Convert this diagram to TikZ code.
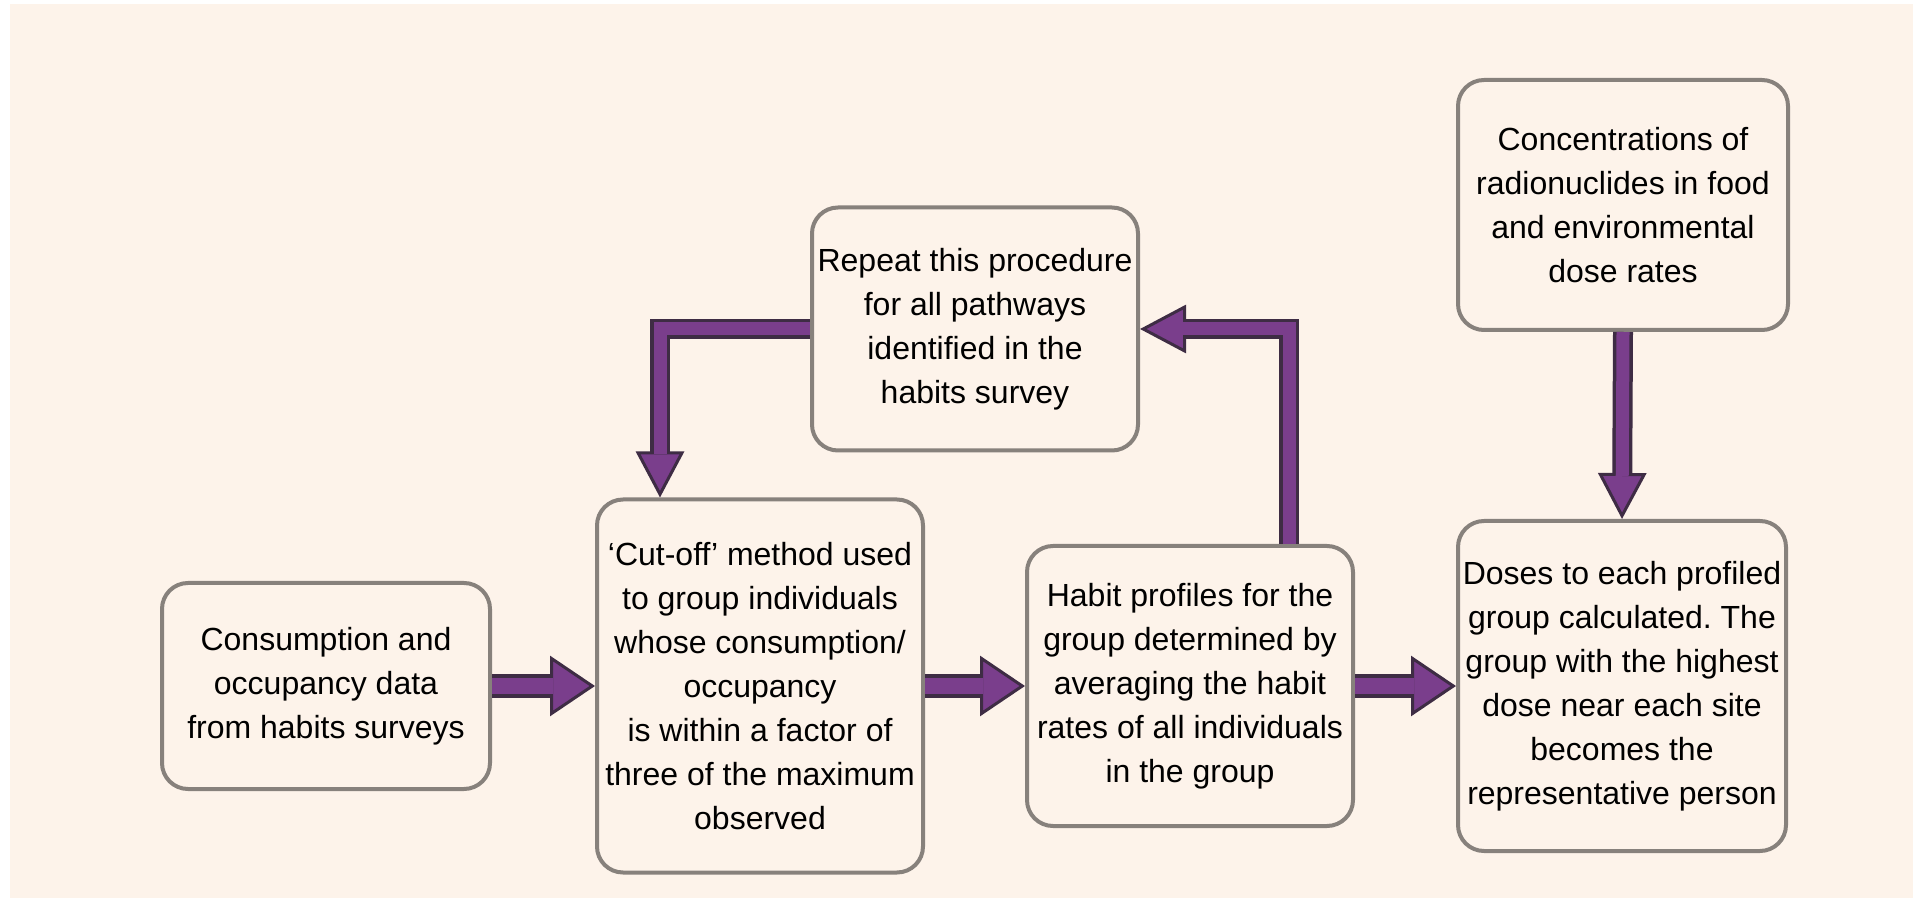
\documentclass[tikz,border=0pt]{standalone}
\usepackage{fontspec}
\setmainfont{Liberation Sans}
\usetikzlibrary{arrows.meta,calc}
\definecolor{bgcream}{RGB}{253,243,234}
\definecolor{boxline}{RGB}{135,129,124}
\definecolor{arrpurple}{RGB}{122,62,140}
\definecolor{arrdark}{RGB}{62,44,68}
\tikzset{
  flowbox/.style={draw=boxline, line width=2pt, rounded corners=13pt, fill=bgcream,
    align=center, inner sep=1pt, text=black,
    font=\fontsize{16pt}{22pt}\selectfont\frenchspacing},
  bigout/.style={draw=arrdark, line width=12pt, line join=miter,
    -{Triangle[width=30pt,length=22.5pt,fill=arrpurple,line width=1.5pt]}},
  bigin/.style={draw=arrpurple, line width=8pt, line join=miter, shorten >=21pt},
  smallout/.style={draw=arrdark, line width=10pt, line join=miter,
    -{Triangle[width=24pt,length=23pt,fill=arrpurple,line width=1.5pt]}},
  smallin/.style={draw=arrpurple, line width=6.5pt, line join=miter, shorten >=21.5pt},
}
\begin{document}
\begin{tikzpicture}[x=0.5pt,y=-0.5pt]
\useasboundingbox (0,0) rectangle (1913,898);
\fill[white] (0,0) rectangle (1913,898);
\fill[bgcream] (10,4) rectangle (1913,898);

\node[flowbox, minimum width=164pt, minimum height=103pt] (A) at (326,686)
  {Consumption and\\occupancy data\\from habits surveys};
\node[flowbox, minimum width=163pt, minimum height=186.5pt] (B) at (760,686)
  {`Cut-off' method used\\to group individuals\\whose consumption/\\occupancy\\is within a factor of\\three of the maximum\\observed};
\node[flowbox, minimum width=163pt, minimum height=140pt] (C) at (1190,686)
  {Habit profiles for the\\group determined by\\averaging the habit\\rates of all individuals\\in the group};
\node[flowbox, minimum width=163pt, minimum height=121.5pt] (D) at (975,329)
  {Repeat this procedure\\for all pathways\\identified in the\\habits survey};
\node[flowbox, minimum width=165pt, minimum height=125pt] (E) at (1623,205)
  {Concentrations of\\radionuclides in food\\and environmental\\dose rates};
\node[flowbox, minimum width=164pt, minimum height=165pt] (F) at (1622,686)
  {Doses to each profiled\\group calculated. The\\group with the highest\\dose near each site\\becomes the\\representative person};

% horizontal arrows
\draw[bigout] (A.east) -- (A.east -| B.west);
\draw[bigin]  (A.east) -- (A.east -| B.west);
\draw[bigout] (B.east) -- (B.east -| C.west);
\draw[bigin]  (B.east) -- (B.east -| C.west);
\draw[bigout] (C.east) -- (C.east -| F.west);
\draw[bigin]  (C.east) -- (C.east -| F.west);

% vertical arrow E -> F
\draw[smallout] (E.south) -- (F.north);
\draw[smallin]  (E.south) -- (F.north);

% elbow arrows
\coordinate (k1) at (660,329);
\coordinate (k2) at (1289,329);
\draw[smallout] (D.west) -- (k1) -- (k1 |- B.north);
\draw[smallin]  (D.west) -- (k1) -- (k1 |- B.north);
\draw[smallout] (k2 |- C.north) -- (k2) -- (D.east);
\draw[smallin]  (k2 |- C.north) -- (k2) -- (D.east);
\end{tikzpicture}
\end{document}
